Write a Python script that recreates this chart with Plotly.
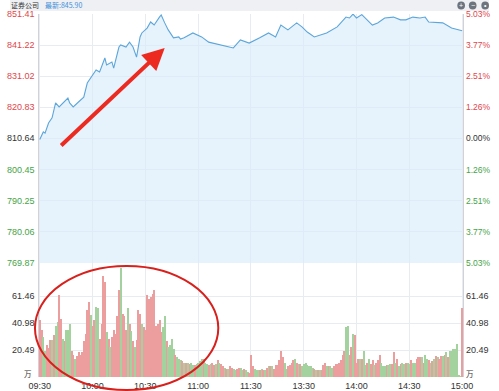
import plotly.graph_objects as go

# ---------------- data ----------------
prev_close = 810.64
last_price = 845.90
title_name = "证券公司"

price_ticks = [769.87, 780.06, 790.25, 800.45, 810.64, 820.83, 831.02, 841.22, 851.41]
pct_labels = ["5.03%", "3.77%", "2.51%", "1.26%", "0.00%", "1.26%", "2.51%", "3.77%", "5.03%"]
vol_ticks = [0, 20.49, 40.98, 61.46]
vol_labels = ["万", "20.49", "40.98", "61.46"]
time_ticks = [0, 30, 60, 90, 120, 150, 180, 210, 240]
time_labels = ["09:30", "10:00", "10:30", "11:00", "11:30", "13:30", "14:00", "14:30", "15:00"]

price_min = [0, 2, 3, 5, 7, 9, 11, 13, 16, 17, 19, 22, 25, 27, 30, 32, 34, 37, 38, 41,
             42, 45, 46, 49, 51, 53, 55, 57, 58, 61, 63, 65, 68, 69, 71, 73, 76, 79, 80, 82,
             87, 92, 96, 103, 110, 114, 119, 125, 130, 134, 137, 141, 146, 149, 152, 156, 159, 163, 169, 174,
             176, 178, 180, 183, 189, 192, 196, 201, 205, 208, 212, 216, 219, 221, 229, 234, 240]
price_val = [810.3, 812.8, 812.4, 815.7, 817.4, 822.3, 821.0, 822.3, 823.9, 822.3, 821.0, 822.6, 824.2, 828.8, 831.4, 833.1, 832.4, 837.0, 834.7, 835.7,
             833.7, 840.6, 841.3, 840.6, 842.2, 840.6, 837.3, 843.9, 845.2, 846.8, 848.8, 847.8, 850.4, 851.1, 848.5, 846.2, 843.6, 843.9, 843.2, 843.6,
             845.2, 843.9, 842.2, 841.3, 840.3, 842.9, 841.9, 843.6, 845.2, 843.9, 847.8, 846.2, 848.5, 847.2, 845.5, 843.9, 844.5, 845.2, 847.2, 850.4,
             850.1, 851.4, 850.1, 851.2, 847.8, 848.5, 850.1, 850.4, 849.5, 849.5, 850.4, 850.1, 850.4, 848.8, 848.5, 846.8, 845.9]

volume = [43, 36, 30, 20, 24, 22, 28, 28, 32, 39, 42, 62, 44, 29, 27, 36, 36, 40, 20, 17,
          14, 16, 19, 17, 19, 27, 33, 51, 57, 47, 39, 43, 53, 52, 29, 40, 77, 72, 34, 29,
          23, 30, 36, 33, 46, 66, 83, 48, 46, 36, 52, 40, 35, 27, 23, 28, 51, 48, 40, 38,
          36, 62, 59, 61, 63, 66, 39, 40, 43, 34, 38, 46, 27, 23, 24, 29, 21, 17, 15, 14,
          13, 12, 11, 11, 11, 10, 11, 9, 9, 10, 11, 12, 14, 14, 11, 10, 9, 10, 11, 9,
          10, 13, 11, 10, 8, 7, 6, 6, 8, 7, 6, 5, 6, 7, 7, 5, 6, 5, 4, 3,
          17, 8, 6, 5, 5, 5, 6, 5, 5, 7, 8, 8, 8, 6, 9, 9, 13, 20, 15, 11,
          6, 8, 9, 11, 13, 14, 11, 10, 10, 8, 10, 11, 9, 8, 8, 7, 6, 5, 5, 5,
          5, 9, 11, 8, 8, 8, 7, 8, 10, 10, 11, 13, 17, 20, 38, 39, 17, 23, 33, 32,
          11, 14, 14, 14, 20, 9, 11, 14, 10, 13, 9, 11, 13, 17, 11, 8, 8, 9, 9, 10,
          10, 19, 11, 14, 8, 10, 11, 10, 11, 11, 10, 13, 11, 11, 14, 15, 15, 15, 11, 17,
          14, 13, 11, 12, 14, 16, 15, 14, 16, 16, 17, 19, 15, 20, 20, 21, 21, 25, 1, 0.3,
          52]
# r = up minute, g = down minute (20 minutes per chunk)
direction = "".join([
    "rrggrrrgrggrrgrgggrr", "grrrrrrrrgrrggrrrrgr", "grrrrrgrrrgrgrgrrrgr",
    "rrrrrrrrrrggrggggrgg", "grgrgrggrggggrggrgrr", "grgrrgrgrrggrrggrggr",
    "rrgggrgrgrgrgrrrrrrg", "grrrrgrgrgggggggrgrg", "rrrgrggrrrrrrrggrrgr",
    "rrgrggrgrrgrrrgggrgg", "rrgrgrggrggrggrrrgrg", "grgrgrgrrgrgrggggggg", "r",
])

# ---------------- geometry ----------------
W, H = 499, 391
X_L, X_R = 31, 471           # 09:30 / 15:00 pixel columns
P_TOP, P_BOT = 14, 263        # price pane
V_BOT = 377                   # volume zero line
RED, GREEN, DARK = "#e0464b", "#45a447", "#333333"
GRID = "#e8ebef"

n = len(volume)
mins = list(range(n))
bar_colors = ["#ec9d9d" if direction[i] == "r" else "#a3d29e" for i in range(n)]

pad = 0.6
px_per_min = (X_R - X_L) / 240.0
dom_x = [(X_L - pad * px_per_min) / W, (X_R + pad * px_per_min) / W]
vol_top = vol_ticks[1] / 27.0 * (V_BOT - P_BOT)

fig = go.Figure()
fig.add_trace(go.Scatter(x=price_min, y=price_val, mode="lines",
                         line=dict(color="#5ca6da", width=1.1),
                         fill="tozeroy", fillcolor="rgba(220,237,251,0.7)",
                         xaxis="x", yaxis="y", hoverinfo="skip"))
fig.add_trace(go.Bar(x=mins, y=volume, marker=dict(color=bar_colors, line=dict(width=0)),
                     width=0.72, xaxis="x2", yaxis="y2", hoverinfo="skip"))

axis_common = dict(showgrid=True, gridcolor=GRID, gridwidth=1, zeroline=False)
fig.update_layout(
    width=W, height=H, margin=dict(l=0, r=0, t=0, b=0),
    paper_bgcolor="white", plot_bgcolor="white", showlegend=False,
    font=dict(family="Liberation Sans, Arial, sans-serif", size=9, color=DARK),
    xaxis=dict(domain=dom_x, range=[-pad, 240 + pad], tickvals=time_ticks,
               showticklabels=False, anchor="y", **axis_common),
    yaxis=dict(domain=[1 - P_BOT / H, 1 - P_TOP / H], range=[price_ticks[0], price_ticks[-1]],
               tickvals=price_ticks, showticklabels=False, anchor="x",
               showline=True, linecolor="#cfd3d9", mirror=True, **axis_common),
    xaxis2=dict(domain=dom_x, range=[-pad, 240 + pad], tickvals=time_ticks, ticktext=time_labels,
                anchor="y2", tickfont=dict(size=9, color=DARK), ticks="", ticklabelstandoff=2,
                **axis_common),
    yaxis2=dict(domain=[1 - V_BOT / H, 1 - P_BOT / H], range=[0, vol_top],
                tickvals=vol_ticks, showticklabels=False, anchor="x2",
                showline=True, linecolor="#cfd3d9", mirror=True, **axis_common),
    bargap=0,
)

ann = []
for p, lab in zip(price_ticks, pct_labels):
    if p > prev_close + 0.01:
        c = RED
    elif p < prev_close - 0.01:
        c = GREEN
    else:
        c = DARK
    ann.append(dict(x=(X_L - 3) / W, y=p, xref="paper", yref="y", text=f"{p:.2f}",
                    showarrow=False, xanchor="right", yanchor="middle",
                    font=dict(size=9, color=c)))
    ann.append(dict(x=(X_R + 2) / W, y=p, xref="paper", yref="y", text=lab,
                    showarrow=False, xanchor="left", yanchor="middle",
                    font=dict(size=8.5, color=c)))
for v, lab in zip(vol_ticks, vol_labels):
    for xp, xa in (((X_L - 3) / W, "right"), ((X_R + 2) / W, "left")):
        is_unit = lab == "万"
        ann.append(dict(x=xp, y=v, xref="paper", yref="y2", text=lab, showarrow=False,
                        xanchor=xa, yanchor="middle", yshift=3 if is_unit else 0,
                        xshift=-3 if (is_unit and xa == "right") else 0,
                        font=dict(size=7.5 if is_unit else 9, color=DARK,
                                  family="Liberation Sans, Noto Sans CJK SC, sans-serif")))
# header texts
ann.append(dict(x=0, y=1 - 5.5 / H, xref="paper", yref="paper", text=title_name,
                showarrow=False, xanchor="left", yanchor="middle", borderpad=0,
                font=dict(size=7, color=DARK, family="Noto Sans CJK SC, sans-serif")))
ann.append(dict(x=35 / W, y=1 - 5.5 / H, xref="paper", yref="paper", text=f"最新:{last_price:.2f}",
                showarrow=False, xanchor="left", yanchor="middle", borderpad=0,
                font=dict(size=7, color="#3f8fd8", family="Noto Sans CJK SC, sans-serif")))
for cx, sym in ((470, "+"), (482, "−"), (495, "•")):
    ann.append(dict(x=cx / W, y=1 - 5.5 / H, xref="paper", yref="paper", text=sym,
                    showarrow=False, xanchor="center", yanchor="middle", borderpad=0,
                    font=dict(size=7, color="white")))
# red arrow
tip_m, tip_p = 71, 840.3
ann.append(dict(x=tip_m, y=tip_p, xref="x", yref="y", text="", showarrow=True,
                ax=-105, ay=99, axref="pixel", ayref="pixel",
                arrowhead=2, arrowsize=1.1, arrowwidth=4, arrowcolor="#ec2a1f"))
fig.update_layout(annotations=ann)

shapes = [
    dict(type="rect", xref="paper", yref="paper", x0=0, x1=1, y0=1 - 11 / H, y1=1,
         fillcolor="#eef0f4", line=dict(width=0), layer="below"),
    dict(type="circle", xref="paper", yref="paper", x0=26 / W, x1=217 / W,
         y0=1 - 390 / H, y1=1 - 266 / H, line=dict(color="#d8201c", width=2)),
]
for cx in (470, 482, 495):
    shapes.append(dict(type="circle", xref="paper", yref="paper",
                       x0=(cx - 4) / W, x1=(cx + 4) / W, y0=1 - 9.5 / H, y1=1 - 1.5 / H,
                       fillcolor="#6d747e", line=dict(width=0)))
fig.update_layout(shapes=shapes)

fig.write_html("out.html", config={"displayModeBar": False},
               post_script="document.body.style.margin='0';document.body.style.overflow='hidden';")
